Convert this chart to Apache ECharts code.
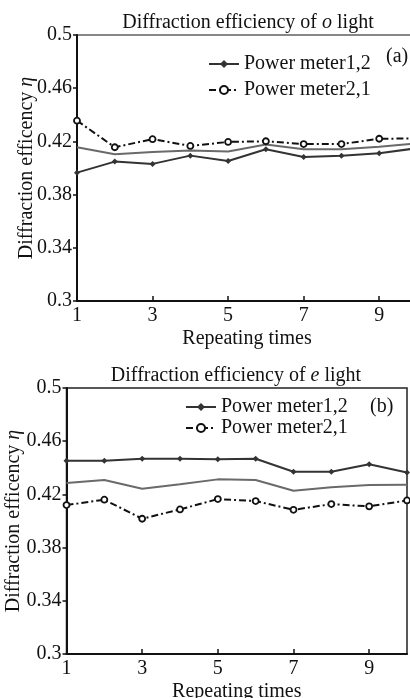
<!DOCTYPE html>
<html><head><meta charset="utf-8">
<script src="https://cdn.jsdelivr.net/npm/echarts@6/dist/echarts.min.js"></script>
<style>html,body{margin:0;padding:0;background:#fff}#c{width:410px;height:698px}</style>
</head><body><div id="c"></div>
<script>
const xCats = ['1','2','3','4','5','6','7','8','9','10'];
const yTicks = [0.3, 0.34, 0.38, 0.42, 0.46, 0.5];
const oMeter12 = [0.3965,0.4048,0.4031,0.4093,0.4053,0.4141,0.4083,0.4093,0.4111,0.4149];
const oMeter21 = [0.4356,0.4156,0.4217,0.4166,0.4196,0.4201,0.4180,0.4180,0.4220,0.4222];
const oMean    = [0.4156,0.4104,0.4121,0.4131,0.4124,0.4176,0.4141,0.4141,0.4160,0.4186];
const eMeter12 = [0.4453,0.4453,0.4468,0.4468,0.4465,0.4468,0.4370,0.4370,0.4426,0.4365];
const eMeter21 = [0.4120,0.4160,0.4017,0.4087,0.4165,0.4150,0.4084,0.4127,0.4110,0.4155];
const eMean    = [0.4285,0.4308,0.4242,0.4277,0.4313,0.4308,0.4227,0.4253,0.4270,0.4272];

const FONT = 'Liberation Serif';
const FS = 20;
const chart = echarts.init(document.getElementById('c'));

function xAx(gi){
  return {
    type:'category', gridIndex:gi, data:xCats, boundaryGap:false,
    axisLine:{lineStyle:{color:'#111',width:2}},
    axisTick:{show:true, inside:true, length:5, interval:1, lineStyle:{color:'#111',width:1.5}},
    axisLabel:{interval:1, margin:5, color:'#111', fontFamily:FONT, fontSize:FS},
    splitLine:{show:false},
    name:'Repeating times', nameLocation:'middle', nameGap:28, nameMoveOverlap:false,
    nameTextStyle:{color:'#111', fontFamily:FONT, fontSize:FS, verticalAlign:'top'}
  };
}
function yAx(gi, gap){
  return {
    type:'value', gridIndex:gi, min:0.3, max:0.5,
    axisLine:{show:true, lineStyle:{color:'#111',width:2}},
    axisTick:{show:true, inside:false, length:4, customValues:yTicks, lineStyle:{color:'#111',width:1.5}},
    axisLabel:{customValues:yTicks, margin:5, color:'#111', fontFamily:FONT, fontSize:FS},
    splitLine:{show:false},
    name:'{a|Diffraction efficency }{i|η}', nameLocation:'middle', nameGap:gap, nameMoveOverlap:false,
    nameTextStyle:{color:'#111', fontFamily:FONT, fontSize:FS,
      rich:{a:{fontFamily:FONT,fontSize:FS,color:'#111'}, i:{fontFamily:FONT,fontSize:FS,fontStyle:'italic',color:'#111'}}}
  };
}
function s12(gi, data){
  return {name:'Power meter1,2', type:'line', xAxisIndex:gi, yAxisIndex:gi, data:data,
    symbol:'diamond', symbolSize:6, showSymbol:true,
    lineStyle:{color:'#333', width:2}, itemStyle:{color:'#333'}, animation:false};
}
function s21(gi, data){
  return {name:'Power meter2,1', type:'line', xAxisIndex:gi, yAxisIndex:gi, data:data,
    symbol:'circle', symbolSize:6, showSymbol:true,
    lineStyle:{color:'#111', width:2, type:[7,3,2,3]},
    itemStyle:{color:'#fff', borderColor:'#111', borderWidth:1.8}, animation:false};
}
function sMean(gi, data){
  return {name:'mean', type:'line', xAxisIndex:gi, yAxisIndex:gi, data:data,
    symbol:'none', lineStyle:{color:'#6a6a6a', width:2}, animation:false};
}
function leg(name, left, top){
  return {data:[name], left:left, top:top, itemWidth:30, itemHeight:10, padding:0,
    selectedMode:false, textStyle:{color:'#111', fontFamily:FONT, fontSize:FS}};
}
const titleRich = {i:{fontFamily:FONT,fontSize:FS,fontStyle:'italic',color:'#111'}};

chart.setOption({
  backgroundColor:'#fff',
  animation:false,
  title:[
    {text:'Diffraction efficiency of {i|o} light', top:13, padding:0, textAlign:'center', left:248,
      textStyle:{color:'#111', fontFamily:FONT, fontSize:FS, fontWeight:'normal', rich:titleRich}},
    {text:'Diffraction efficiency of {i|e} light', top:366, padding:0, textAlign:'center', left:236,
      textStyle:{color:'#111', fontFamily:FONT, fontSize:FS, fontWeight:'normal', rich:titleRich}}
  ],
  grid:[
    {left:77, top:35, right:-7, bottom:397, show:true, borderColor:'#111', borderWidth:1.2,
      containLabel:false, outerBoundsMode:'none'},
    {left:66.5, top:388, right:3, bottom:44, show:true, borderColor:'#222', borderWidth:1.5,
      containLabel:false, outerBoundsMode:'none'}
  ],
  xAxis:[xAx(0), xAx(1)],
  yAxis:[yAx(0,40), yAx(1,43)],
  legend:[
    leg('Power meter1,2', 208, 54),
    leg('Power meter2,1', 208, 80),
    leg('Power meter1,2', 185, 397),
    leg('Power meter2,1', 185, 418)
  ],
  graphic:[
    {type:'text', left:386, top:47, style:{text:'(a)', fill:'#111', font:FS+'px "'+FONT+'"'}},
    {type:'text', left:370, top:397, style:{text:'(b)', fill:'#111', font:FS+'px "'+FONT+'"'}}
  ],
  series:[
    sMean(0,oMean), s12(0,oMeter12), s21(0,oMeter21),
    sMean(1,eMean), s12(1,eMeter12), s21(1,eMeter21)
  ]
});
</script></body></html>
